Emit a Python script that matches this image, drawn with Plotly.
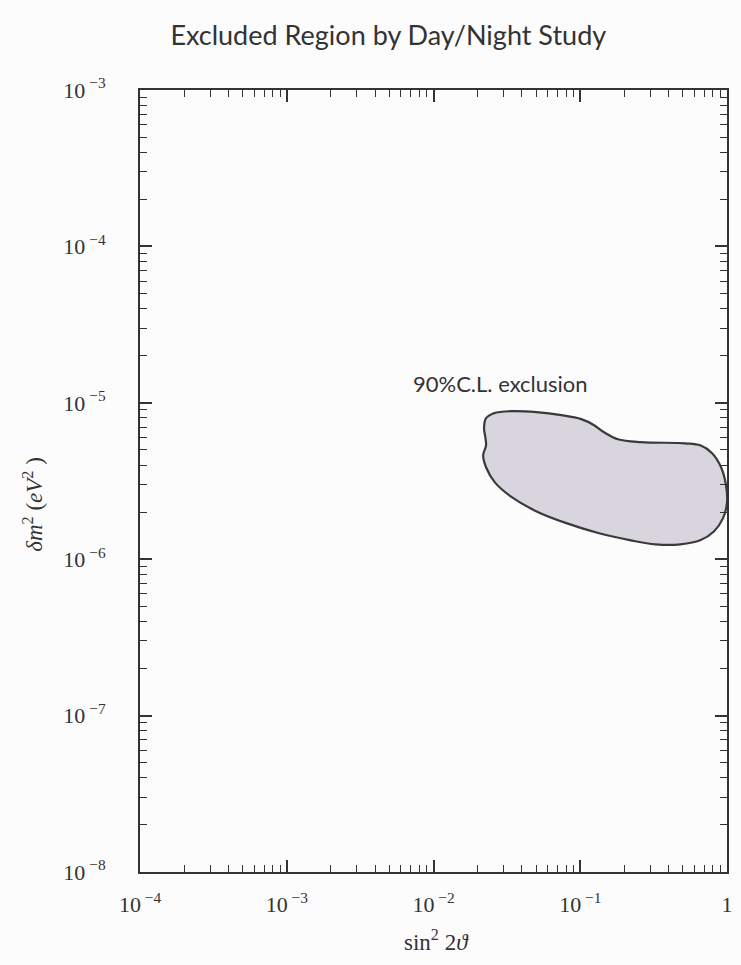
import math
import plotly.graph_objects as go

# 90% C.L. excluded region from the day/night asymmetry study
# (closed contour in the sin^2 2θ – δm^2 plane, clockwise from the upper-left lobe)
contour_sin2 = [0.0221, 0.0228, 0.0258, 0.0342, 0.0504, 0.0744, 0.1016, 0.1244,
                0.1453, 0.1806, 0.2584, 0.5203, 0.6570, 0.7916, 0.9110, 0.9845,
                1.0000, 0.9397, 0.8169, 0.6570, 0.4814, 0.3263, 0.2212, 0.1344,
                0.0804, 0.0504, 0.0342, 0.0262, 0.0228, 0.0218, 0.0228, 0.0225]
contour_dm2 = [6.88e-6, 7.97e-6, 8.58e-6, 8.84e-6, 8.71e-6, 8.33e-6, 7.86e-6, 7.19e-6,
               6.48e-6, 5.85e-6, 5.60e-6, 5.51e-6, 5.35e-6, 4.76e-6, 3.87e-6, 2.97e-6,
               2.31e-6, 1.83e-6, 1.51e-6, 1.32e-6, 1.245e-6, 1.245e-6, 1.32e-6, 1.465e-6,
               1.70e-6, 2.02e-6, 2.49e-6, 3.10e-6, 3.87e-6, 4.62e-6, 5.35e-6, 6.11e-6]

x_major = [1e-4, 1e-3, 1e-2, 1e-1, 1.0]
x_major_text = ["10<sup> −4</sup>", "10<sup> −3</sup>", "10<sup> −2</sup>",
                "10<sup> −1</sup>", "1"]
y_major = [1e-8, 1e-7, 1e-6, 1e-5, 1e-4, 1e-3]
y_major_text = ["10<sup> −8</sup>", "10<sup> −7</sup>", "10<sup> −6</sup>",
                "10<sup> −5</sup>", "10<sup> −4</sup>", "10<sup> −3</sup>"]

region_label = "90%C.L. exclusion"
region_label_at = (0.0284, 1.33e-5)

INK = "#333333"
SERIF = "Liberation Serif, Times New Roman, serif"
SANS = "Lato, Open Sans, sans-serif"


def minor_positions(lo_exp, hi_exp):
    return [m * 10.0 ** e for e in range(lo_exp, hi_exp) for m in range(2, 10)]


fig = go.Figure()

fig.add_trace(go.Scatter(
    x=contour_sin2 + contour_sin2[:1],
    y=contour_dm2 + contour_dm2[:1],
    mode="lines",
    fill="toself",
    fillcolor="#d9d5de",
    line=dict(color="#3a3a3a", width=2.2, shape="spline", smoothing=1.0),
    hoverinfo="skip",
    showlegend=False,
))

axis_common = dict(
    type="log",
    showline=True,
    linecolor=INK,
    linewidth=2,
    mirror="allticks",
    ticks="inside",
    ticklen=12,
    tickwidth=1.6,
    tickcolor=INK,
    showgrid=False,
    zeroline=False,
    tickmode="array",
    tickfont=dict(family=SERIF, size=22, color=INK),
)

fig.update_xaxes(
    **axis_common,
    range=[-4, 0],
    tickvals=x_major,
    ticktext=x_major_text,
    ticklabelstandoff=12,
    minor=dict(tickmode="array", tickvals=minor_positions(-4, 0),
               ticks="inside", ticklen=7, tickwidth=1.4, tickcolor=INK),
)
fig.update_yaxes(
    **axis_common,
    range=[-8, -3],
    tickvals=y_major,
    ticktext=y_major_text,
    ticklabelstandoff=28,
    minor=dict(tickmode="array", tickvals=minor_positions(-8, -3),
               ticks="inside", ticklen=7, tickwidth=1.4, tickcolor=INK),
)

fig.add_annotation(
    x=math.log10(region_label_at[0]), y=math.log10(region_label_at[1]),
    xref="x", yref="y", text=region_label, showarrow=False,
    font=dict(family=SANS, size=22, color=INK),
)

# axis titles placed as free text so they sit where the page layout puts them
fig.add_annotation(
    x=0.505, y=-0.087, xref="paper", yref="paper", yanchor="middle",
    yshift=-0.0, text="sin<sup>2</sup> 2<i>ϑ</i>", showarrow=False,
    font=dict(family=SERIF, size=23, color=INK),
)
fig.add_annotation(
    x=-0.21, y=0.47, xref="paper", yref="paper", textangle=-90,
    xanchor="left",
    text="<i>δm</i><sup>2</sup> (<i>eV</i><sup>2</sup> )", showarrow=False,
    font=dict(family=SERIF, size=23, color=INK),
)

fig.update_layout(
    width=741, height=965,
    margin=dict(l=140, r=8, t=90, b=93),
    paper_bgcolor="#fdfcfd",
    plot_bgcolor="#fdfcfd",
    title=dict(text="Excluded Region by Day/Night Study", x=0.524, xanchor="center",
               y=0.963, yanchor="middle",
               font=dict(family=SANS, size=27, color=INK)),
)

fig.write_html("out.html")
